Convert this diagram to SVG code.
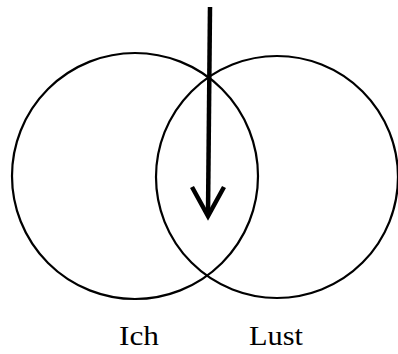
<svg xmlns="http://www.w3.org/2000/svg" width="398" height="354" viewBox="0 0 398 354">
<style>
.c{fill:none;stroke:#000;stroke-width:2.2}
.a{fill:none;stroke:#000;stroke-width:4.5}
.t{font-family:"Liberation Serif",serif;font-size:28px;fill:#000}
</style>
<rect width="398" height="354" fill="#fff"/>
<g id="ich"><circle class="c" cx="135" cy="176" r="123"/><text class="t" x="119" y="345" textLength="40" lengthAdjust="spacingAndGlyphs">Ich</text></g>
<g id="lust"><circle class="c" cx="277" cy="177" r="121"/><text class="t" x="249" y="345" textLength="54" lengthAdjust="spacingAndGlyphs">Lust</text></g>
<g id="connectors">
<line class="a" x1="210" y1="7" x2="208" y2="214"/>
<polyline class="a" points="192,187 208,216 224,187" stroke-linejoin="miter"/>
</g>
</svg>
